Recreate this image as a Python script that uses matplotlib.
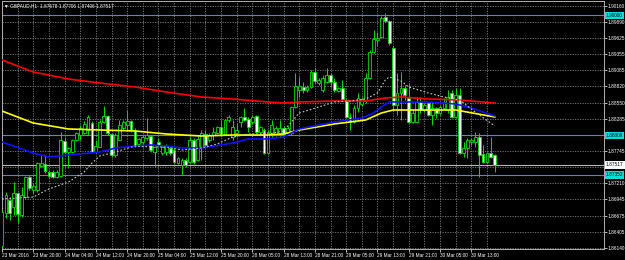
# GBPAUD H1 candles with moving averages, MT4-style black chart
import matplotlib
matplotlib.use("Agg")
import matplotlib.pyplot as plt
import matplotlib.transforms as mtransforms

plt.rcParams['font.family'] = ['Liberation Sans', 'DejaVu Sans']

# ---------- data ----------
opens = [1.86171, 1.86719, 1.86935, 1.86819, 1.87051, 1.86686, 1.86985, 1.87317, 1.87101, 1.87101,
         1.87499, 1.87533, 1.87400, 1.87400, 1.87317, 1.87333, 1.87914, 1.87732, 1.87732, 1.87931,
         1.88014, 1.88047, 1.88097, 1.88213, 1.87732, 1.87815, 1.88230, 1.88329, 1.88031, 1.87682,
         1.87931, 1.88130, 1.88180, 1.88246, 1.88097, 1.87865, 1.87898, 1.87964, 1.87997, 1.87732,
         1.87898, 1.87715, 1.87732, 1.87798, 1.87765, 1.87549, 1.87516, 1.87599, 1.87566, 1.87931,
         1.87599, 1.87815, 1.88031, 1.87931, 1.88014, 1.88047, 1.88147, 1.88031, 1.88263, 1.87981,
         1.88047, 1.88230, 1.88313, 1.88280, 1.88230, 1.88329, 1.88064, 1.88097, 1.87715, 1.88047,
         1.88014, 1.88047, 1.88130, 1.88047, 1.88047, 1.88479, 1.88761, 1.88811, 1.88761, 1.88811,
         1.89060, 1.88877, 1.88761, 1.88894, 1.89010, 1.88894, 1.88744, 1.88794, 1.88595, 1.88313,
         1.88230, 1.88462, 1.88529, 1.88595, 1.88960, 1.89392, 1.89591, 1.89641, 1.89973, 1.89906,
         1.89458, 1.88512, 1.88711, 1.88794, 1.88628, 1.88230, 1.88230, 1.88562, 1.88429, 1.88545,
         1.88346, 1.88462, 1.88379, 1.88462, 1.88429, 1.88711, 1.88313, 1.88678, 1.87715, 1.87798,
         1.87898, 1.87898, 1.87981, 1.87699, 1.87566, 1.87715, 1.87678]
highs = [1.86769, 1.87068, 1.86985, 1.87234, 1.87068, 1.87151, 1.87333, 1.87350, 1.87217, 1.87566,
         1.87682, 1.87682, 1.87433, 1.87433, 1.87433, 1.88064, 1.87981, 1.87815, 1.87948, 1.88064,
         1.88180, 1.88246, 1.88346, 1.88246, 1.87931, 1.88263, 1.88495, 1.88346, 1.88047, 1.88047,
         1.88263, 1.88263, 1.88429, 1.88263, 1.88130, 1.87964, 1.88014, 1.88296, 1.88014, 1.87831,
         1.87964, 1.87848, 1.87865, 1.87831, 1.87798, 1.87649, 1.87632, 1.87632, 1.87981, 1.87964,
         1.87997, 1.88097, 1.88097, 1.88047, 1.88147, 1.88163, 1.88263, 1.88280, 1.88346, 1.88263,
         1.88213, 1.88329, 1.88462, 1.88313, 1.88346, 1.88346, 1.88163, 1.88130, 1.88097, 1.88263,
         1.88163, 1.88263, 1.88163, 1.88163, 1.88495, 1.89043, 1.88977, 1.88894, 1.88844, 1.89093,
         1.89126, 1.88960, 1.89010, 1.89126, 1.89043, 1.88960, 1.88811, 1.88927, 1.88628, 1.88379,
         1.88512, 1.88711, 1.88645, 1.89043, 1.89425, 1.89757, 1.89724, 1.89989, 1.90039, 1.89923,
         1.89491, 1.89043, 1.89060, 1.88844, 1.88877, 1.88429, 1.88645, 1.88645, 1.88545, 1.88562,
         1.88562, 1.88479, 1.88512, 1.88628, 1.88761, 1.88761, 1.88794, 1.88794, 1.87898, 1.87964,
         1.87964, 1.88064, 1.88047, 1.87848, 1.87732, 1.87981, 1.87706]
lows = [1.86138, 1.86636, 1.86603, 1.86686, 1.86553, 1.86653, 1.86968, 1.87101, 1.87051, 1.87068,
        1.87483, 1.87383, 1.87300, 1.87300, 1.87300, 1.87317, 1.87715, 1.87466, 1.87715, 1.87914,
        1.87931, 1.88031, 1.88014, 1.87715, 1.87715, 1.87815, 1.88213, 1.88014, 1.87649, 1.87649,
        1.87931, 1.88097, 1.88097, 1.88064, 1.87815, 1.87831, 1.87815, 1.87931, 1.87732, 1.87483,
        1.87815, 1.87682, 1.87682, 1.87682, 1.87549, 1.87533, 1.87350, 1.87483, 1.87549, 1.87533,
        1.87582, 1.87599, 1.87815, 1.87898, 1.87931, 1.88031, 1.88014, 1.88014, 1.88230, 1.87931,
        1.87981, 1.88147, 1.88246, 1.88064, 1.88197, 1.88047, 1.88047, 1.87699, 1.87699, 1.87981,
        1.87997, 1.87981, 1.88014, 1.88014, 1.88014, 1.88462, 1.88645, 1.88711, 1.88728, 1.88794,
        1.88877, 1.88844, 1.88728, 1.88877, 1.88811, 1.88728, 1.88728, 1.88595, 1.88296, 1.88097,
        1.88213, 1.88396, 1.88495, 1.88545, 1.88944, 1.89375, 1.89508, 1.89624, 1.89890, 1.89508,
        1.88429, 1.88346, 1.88263, 1.88595, 1.88213, 1.88213, 1.88213, 1.88379, 1.88396, 1.88329,
        1.88180, 1.88296, 1.88346, 1.88429, 1.88379, 1.88296, 1.88296, 1.87699, 1.87649, 1.87632,
        1.87848, 1.87815, 1.87317, 1.87549, 1.87549, 1.87632, 1.87406]
closes = [1.86736, 1.87018, 1.86719, 1.87051, 1.86703, 1.87018, 1.87317, 1.87134, 1.87167, 1.87549,
          1.87549, 1.87416, 1.87333, 1.87317, 1.87400, 1.87931, 1.87732, 1.87798, 1.87931, 1.88047,
          1.88130, 1.88197, 1.88313, 1.87732, 1.87831, 1.88230, 1.88329, 1.88047, 1.87682, 1.88014,
          1.88180, 1.88230, 1.88246, 1.88097, 1.87831, 1.87948, 1.87981, 1.88014, 1.87765, 1.87815,
          1.87848, 1.87815, 1.87831, 1.87715, 1.87566, 1.87632, 1.87599, 1.87516, 1.87931, 1.87566,
          1.87948, 1.88047, 1.87848, 1.88014, 1.88064, 1.88147, 1.88031, 1.88263, 1.88313, 1.88147,
          1.88097, 1.88313, 1.88263, 1.88147, 1.88313, 1.88064, 1.88147, 1.87715, 1.88064, 1.88180,
          1.88130, 1.88130, 1.88031, 1.88130, 1.88479, 1.88827, 1.88827, 1.88761, 1.88811, 1.89060,
          1.88910, 1.88927, 1.88960, 1.89010, 1.88894, 1.88761, 1.88794, 1.88612, 1.88313, 1.88230,
          1.88462, 1.88628, 1.88612, 1.88960, 1.89392, 1.89608, 1.89624, 1.89956, 1.89906, 1.89541,
          1.88512, 1.88711, 1.88794, 1.88678, 1.88230, 1.88379, 1.88562, 1.88429, 1.88512, 1.88346,
          1.88462, 1.88379, 1.88479, 1.88562, 1.88645, 1.88313, 1.88678, 1.87715, 1.87798, 1.87931,
          1.87931, 1.87981, 1.87682, 1.87566, 1.87715, 1.87649, 1.87517]

# moving averages (bar index, price)
red_idx = [0, 8, 17, 25, 34, 42, 51, 59, 68, 72, 76, 85, 93, 98, 102, 109, 117, 126]
red_ma = [1.89259, 1.89060, 1.88944, 1.88877, 1.88811, 1.88728, 1.88645, 1.88612, 1.88562,
          1.88545, 1.88562, 1.88578, 1.88578, 1.88628, 1.88645, 1.88612, 1.88595, 1.88545]
yel_idx = [0, 8, 17, 25, 34, 42, 51, 59, 68, 72, 76, 85, 89, 93, 97, 100, 116, 126]
yel_ma = [1.88412, 1.88213, 1.88114, 1.88097, 1.88081, 1.88031, 1.87997, 1.88014, 1.88014,
          1.88031, 1.88097, 1.88197, 1.88230, 1.88263, 1.88379, 1.88429, 1.88429, 1.88313]
blue_idx = [0, 8, 12, 17, 25, 29, 34, 38, 42, 46, 51, 59, 63, 68, 72, 76, 85, 92, 95, 97,
            99, 104, 109, 116, 120, 126]
blue_ma = [1.87898, 1.87715, 1.87649, 1.87682, 1.87732, 1.87798, 1.87831, 1.87848, 1.87831,
           1.87798, 1.87798, 1.87881, 1.87948, 1.87948, 1.87981, 1.88114, 1.88230, 1.88296,
           1.88379, 1.88479, 1.88562, 1.88562, 1.88562, 1.88529, 1.88462, 1.88329]
gray_idx = [0, 4, 8, 12, 17, 21, 23, 25, 28, 34, 38, 42, 46, 51, 55, 59, 63, 68, 72, 76,
            81, 85, 89, 93, 96, 98, 99, 102, 104, 109, 113, 117, 121, 126]
gray_ma = [1.86952, 1.86968, 1.86985, 1.87118, 1.87234, 1.87400, 1.87549, 1.87665, 1.87715,
           1.87831, 1.87815, 1.87815, 1.87765, 1.87798, 1.87865, 1.87981, 1.88031, 1.88031,
           1.88081, 1.88379, 1.88479, 1.88562, 1.88578, 1.88612, 1.88711, 1.88927, 1.88977,
           1.88910, 1.88811, 1.88711, 1.88645, 1.88595, 1.88396, 1.88163]

cyan_levels = [1.90000, 1.88009, 1.87352]
bid = 1.87517

price_ticks = [1.90160, 1.89890, 1.89625, 1.89355, 1.89085, 1.88820, 1.88550, 1.88285,
               1.88015, 1.87745, 1.87480, 1.87210, 1.86945, 1.86675, 1.86405, 1.86140]
hidden_ticks = [1.88015, 1.87480]   # covered by the level boxes in the original
date_ticks = [0, 8, 16, 24, 32, 40, 48, 56, 64, 72, 80, 88, 96, 104, 112, 120]
date_labels = ["23 Mar 2016", "23 Mar 20:00", "24 Mar 04:00", "24 Mar 12:00", "24 Mar 20:00",
               "25 Mar 04:00", "25 Mar 12:00", "25 Mar 20:00", "28 Mar 05:00", "28 Mar 13:00",
               "28 Mar 21:00", "29 Mar 05:00", "29 Mar 13:00", "29 Mar 21:00", "30 Mar 05:00",
               "30 Mar 13:00"]
title = "\u25bc GBPAUD,H1  1.87678 1.87706 1.87406 1.87517"

GREEN = "#00e000"
FS = 3.4

fig = plt.figure(figsize=(6.25, 2.6), dpi=100, facecolor="black")
ax = fig.add_axes([2 / 625, 11 / 260, 602 / 625, 248 / 260])
ax.set_facecolor("black")

# ---------- candles ----------
xs = list(range(len(opens)))
ax.vlines(xs, lows, highs, color=GREEN, lw=0.7, zorder=3)
bottoms = [min(o, c) for o, c in zip(opens, closes)]
heights = [max(abs(c - o), 0.00003) for o, c in zip(opens, closes)]
fills = ["black" if c >= o else "white" for o, c in zip(opens, closes)]
ax.bar(xs, heights, bottom=bottoms, width=0.72, color=fills, edgecolor=GREEN, lw=0.6, zorder=4)

# ---------- indicator lines ----------
ax.plot(red_idx, red_ma, color="#ff0000", lw=1.2, zorder=5)
ax.plot(yel_idx, yel_ma, color="#ffff00", lw=1.2, zorder=5)
ax.plot(blue_idx, blue_ma, color="#1010ff", lw=1.2, zorder=5)
ax.plot(gray_idx, gray_ma, color="#c8c8c8", lw=0.8, ls=(0, (1.5, 1.8)), zorder=5)

for lv in cyan_levels:
    ax.axhline(lv, color="#1ea8a8", lw=0.8, zorder=2)
ax.axhline(bid, color="#b8b8b8", lw=0.8, zorder=2)

# ---------- axes ----------
ax.set_xlim(0.077, 153.92)
ax.set_ylim(1.86122, 1.90238)

ax.yaxis.tick_right()
ax.set_yticks(price_ticks)
ax.set_yticklabels(["" if p in hidden_ticks else "%.5f" % p for p in price_ticks])
ax.tick_params(axis="y", colors="white", labelsize=FS, length=2, width=0.5, pad=0.6)

ax.set_xticks(date_ticks)
ax.set_xticklabels(date_labels)
ax.set_xticks([t + 4 for t in date_ticks], minor=True)
for lbl in ax.get_xticklabels():
    lbl.set_ha("left")
ax.tick_params(axis="x", colors="white", labelsize=FS, length=2, width=0.5, pad=1)
ax.tick_params(axis="x", which="minor", length=0)

ax.grid(True, which="both", color="#808080", ls=(0, (1.5, 1.5)), lw=0.6)
ax.set_axisbelow(True)
for s in ax.spines.values():
    s.set_color("#b0b0b0")
    s.set_linewidth(0.7)

trans = mtransforms.blended_transform_factory(ax.transAxes, ax.transData)
for lv in cyan_levels:
    ax.text(1.003, lv, "%.5f" % lv, transform=trans, ha="left", va="center", fontsize=FS,
            color="black", clip_on=False, zorder=10,
            bbox=dict(boxstyle="square,pad=0.25", fc="#00e0e0", ec="none"))
ax.text(1.003, bid, "%.5f" % bid, transform=trans, ha="left", va="center", fontsize=FS,
        color="black", clip_on=False, zorder=10,
        bbox=dict(boxstyle="square,pad=0.25", fc="white", ec="none"))

ax.text(0.004, 0.99, title, transform=ax.transAxes, ha="left", va="top",
        fontsize=FS, color="white", zorder=10)

fig.savefig("out.png", dpi=100, facecolor="black")
